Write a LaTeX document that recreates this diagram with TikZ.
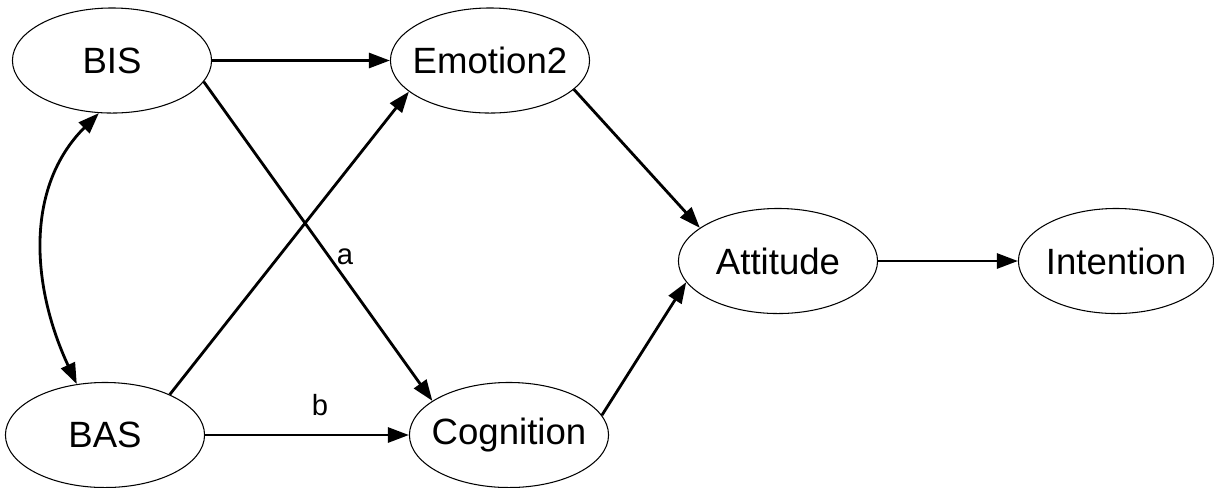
\documentclass[tikz,border=0pt]{standalone}
\usepackage{fontspec}
\setmainfont{Liberation Sans}
\usetikzlibrary{arrows.meta,shapes.geometric}
% a label that does not widen its ellipse
\newcommand\varname[1]{\makebox[0pt]{#1}}
\begin{document}
\begin{tikzpicture}[x=0.01cm,y=-0.01cm,
  latent/.style={draw,ellipse,line width=0.3pt,minimum width=1.99cm,minimum height=1.05cm,inner sep=0pt,font=\fontsize{10.4}{12}\selectfont},
  tip/.style={Triangle[length=2.1mm,width=1.5mm]},
  path/.style={line width=0.8pt,-{Triangle[length=2.1mm,width=1.5mm]}},
  both/.style={line width=0.8pt,{Triangle[length=2.1mm,width=1.5mm]}-{Triangle[length=2.1mm,width=1.5mm]}},
  coef/.style={font=\fontsize{8.3}{10}\selectfont,inner sep=0pt}]
\useasboundingbox (0,0) rectangle (1214,487);
% latent variables
\node[latent] (BIS) at (112,60.5) {\varname{BIS}};
\node[latent] (BAS) at (105,435) {\varname{BAS}};
\node[latent] (Emo) at (490,60.5) {\varname{Emotion2}};
\node[latent] (Cog) at (509,435) {\varname{Cognition}};
\node[latent] (Att) at (778,261) {\varname{Attitude}};
\node[latent,minimum width=1.95cm] (Int) at (1116,261) {\varname{Intention}};
% paths
\draw[path] (BIS) -- (Emo);
\draw[path] (BIS.-13.2) -- (Cog.156.8);
\draw[path] (BAS.32.9) -- (Emo.201.9);
\draw[path] (BAS) -- (Cog);
\draw[path] (Emo.-19.8) -- (Att.157.8);
\draw[path] (Cog.12.9) -- (Att.193.1);
\draw[path] (Att) -- (Int);
\draw[both] (BIS.256.9) to[out=225,in=115] (BAS.119.2);
% coefficient labels
\node[coef] (la) at (345,257) {a};
\node[coef] (lb) at (320,405) {b};
\end{tikzpicture}
\end{document}
